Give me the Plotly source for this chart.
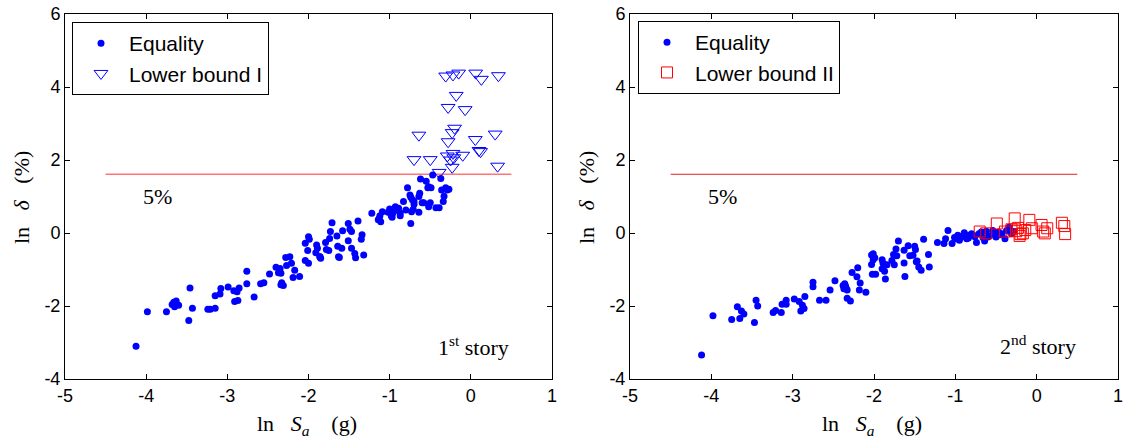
import numpy as np
import plotly.graph_objects as go

# ---------------- data ----------------
# 1st story: equality solutions (ln Sa, ln drift)
eq1_x = [-4.125, -3.985, -3.75, -3.68, -3.66, -3.63, -3.60, -3.65, -3.46, -3.475,
         -3.43, -3.24, -3.21, -3.15, -3.15, -3.09, -3.08, -2.99, -2.92, -2.88,
         -2.855, -2.91, -2.87, -2.76, -2.76, -2.67, -2.59, -2.55, -2.48, -2.40,
         -2.35, -2.37, -2.34, -2.33, -2.31, -2.34, -2.27, -2.28, -2.23, -2.21,
         -2.17, -2.19, -2.11, -2.04, -2.00, -1.99, -2.04, -2.01, -2.00, -1.90,
         -1.89, -1.91, -1.86, -1.85, -1.79, -1.74, -1.73, -1.78, -1.75, -1.71,
         -1.65, -1.64, -1.63, -1.59, -1.58, -1.49, -1.47, -1.51, -1.51, -1.47,
         -1.43, -1.42, -1.39, -1.34, -1.35, -1.32, -1.22, -1.12, -1.11, -1.13,
         -1.09, -1.02, -0.97, -0.96, -0.93, -0.91, -0.98, -0.87, -0.89, -0.83,
         -0.87, -0.78, -0.74, -0.72, -0.70, -0.75, -0.70, -0.73, -0.71, -0.64,
         -0.74, -0.63, -0.64, -0.62, -0.60, -0.58, -0.55, -0.53, -0.49, -0.52,
         -0.52, -0.50, -0.47, -0.43, -0.39, -0.37, -0.36, -0.34, -0.33, -0.31,
         -0.29, -0.27, -1.14, -1.00, -0.95, -0.80, -1.62, -1.86]
eq1_y = [-3.10, -2.16, -2.16, -1.96, -1.90, -1.86, -1.98, -2.02, -1.51, -2.40,
         -2.06, -2.09, -2.09, -2.06, -1.72, -1.67, -1.52, -1.48, -1.58, -1.61,
         -1.51, -1.88, -1.85, -1.39, -1.05, -1.75, -1.39, -1.36, -1.12, -0.94,
         -0.97, -1.09, -1.10, -1.36, -1.44, -1.42, -0.89, -0.67, -0.65, -0.83,
         -1.02, -1.22, -1.19, -0.75, -0.10, -0.17, -0.28, -0.48, -0.83, -0.33,
         -0.42, -0.54, -0.65, -0.69, -0.26, -0.15, 0.04, -0.45, -0.48, 0.28,
         -0.08, -0.36, -0.65, -0.42, 0.06, 0.10, 0.04, 0.26, -0.21, -0.42,
         -0.56, -0.68, 0.33, -0.05, -0.17, -0.60, 0.54, 0.47, 0.31, 0.40,
         0.58, 0.57, 0.43, 0.55, 0.72, 0.63, 0.47, 0.55, 0.68, 0.86,
         0.47, 1.24, 0.98, 0.91, 0.86, 1.04, 0.79, 0.58, 0.65, 0.57,
         0.26, 1.09, 1.00, 1.48, 0.83, 0.83, 1.42, 1.24, 1.24, 1.27,
         0.72, 0.83, 1.59, 0.69, 0.69, 1.49, 1.18, 0.86, 1.01, 1.24,
         1.18, 1.20, 0.36, 0.66, 0.60, 0.63, -0.67, -0.65]

# 1st story: lower bound I
lb1_x = [-0.31, -0.22, -0.15, 0.06, 0.13, 0.34, -0.18, -0.28, -0.07, -0.64,
         -0.20, -0.23, -0.28, 0.055, 0.30, -0.70, -0.50, -0.29, -0.22, -0.21,
         -0.10, 0.10, 0.12, -0.23, 0.33, -0.39, -0.25]
lb1_y = [4.30, 4.33, 4.38, 4.38, 4.21, 4.31, 3.77, 3.44, 3.38, 2.68,
         2.87, 2.75, 2.50, 2.56, 2.71, 2.01, 2.01, 2.11, 2.18, 2.06,
         2.13, 2.26, 2.23, 1.80, 1.83, 1.66, 2.00]

# 2nd story: equality solutions
eq2_x = [-4.12, -3.98, -3.75, -3.68, -3.63, -3.60, -3.65, -3.47, -3.45, -3.43,
         -3.24, -3.21, -3.14, -3.13, -3.08, -3.08, -2.98, -2.92, -2.90, -2.88,
         -2.86, -2.85, -2.75, -2.75, -2.67, -2.59, -2.54, -2.48, -2.38, -2.36,
         -2.35, -2.34, -2.33, -2.37, -2.33, -2.29, -2.27, -2.21, -2.20, -2.18,
         -2.17, -2.10, -2.03, -2.01, -1.99, -2.01, -2.03, -2.02, -1.98, -1.90,
         -1.89, -1.90, -1.87, -1.86, -1.84, -1.78, -1.76, -1.75, -1.73, -1.72,
         -1.70, -1.63, -1.63, -1.62, -1.58, -1.56, -1.52, -1.50, -1.49, -1.47,
         -1.48, -1.45, -1.42, -1.39, -1.33, -1.32, -1.22, -1.14, -1.12, -1.09,
         -1.04, -0.99, -0.97, -0.95, -0.93, -0.89, -0.86, -0.83, -0.80, -0.78,
         -0.74, -0.71, -0.68, -0.64, -0.62, -0.60, -0.54, -0.52, -0.50, -0.47,
         -0.43, -0.39, -0.37, -0.34, -0.31, -0.58, -0.66, -0.76, -0.84, -0.91,
         -1.01, -0.45, -0.28]
eq2_y = [-3.34, -2.27, -2.37, -2.02, -2.14, -2.22, -2.34, -2.45, -1.84, -2.00,
         -2.18, -2.12, -2.18, -1.95, -1.84, -1.95, -1.81, -1.88, -2.14, -1.98,
         -2.07, -1.74, -1.35, -1.47, -1.84, -1.84, -1.56, -1.31, -1.44, -1.39,
         -1.45, -1.52, -1.56, -1.53, -1.79, -1.86, -1.08, -1.20, -0.95, -1.56,
         -1.37, -1.62, -0.60, -0.57, -0.68, -0.73, -0.86, -1.13, -1.13, -0.73,
         -0.82, -0.98, -1.05, -1.26, -0.87, -0.75, -0.59, -0.87, -0.44, -0.62,
         -0.22, -0.47, -0.82, -1.19, -0.35, -0.62, -0.61, -0.36, -0.45, -0.77,
         -0.79, -0.93, -1.02, -0.17, -0.59, -0.93, -0.26, -0.29, -0.16, 0.07,
         -0.29, -0.16, -0.06, -0.20, -0.11, 0.01, -0.16, -0.06, -0.02, -0.06,
         -0.26, -0.02, 0.03, -0.22, 0.05, -0.11, 0.07, -0.02, -0.11, 0.03,
         -0.02, -0.16, 0.07, 0.16, -0.02, -0.08, -0.12, -0.10, -0.14, -0.08,
         -0.12, -0.05, 0.04]

# 2nd story: lower bound II
lb2_x = [-0.70, -0.62, -0.49, -0.39, -0.31, -0.27, -0.23, -0.20, -0.21, -0.17,
         -0.09, -0.06, 0.06, 0.08, 0.10, 0.13, 0.31, 0.34, 0.35, -0.25, -0.14]
lb2_y = [0.04, -0.01, 0.26, 0.04, 0.10, 0.40, 0.14, -0.03, -0.08, -0.01,
         0.36, 0.13, 0.22, 0.04, -0.01, 0.13, 0.28, 0.19, -0.03, 0.05, 0.08]

# 5 % drift limit, drawn over this ln Sa span
limit_pct = 5
limit_span = [-4.5, 0.5]

x_ticks = [-5, -4, -3, -2, -1, 0, 1]
y_ticks = [-4, -2, 0, 2, 4, 6]
x_ticktext = ["-5", "-4", "-3", "-2", "-1", "0", "1"]
y_ticktext = ["-4", "-2", "0", "2", "4", "6"]

# ---------------- figure ----------------
W, H = 1125, 447
BLUE = "#0000ff"
SANS = "Liberation Sans, Arial, sans-serif"
SERIF = "Liberation Serif, Times New Roman, serif"

fig = go.Figure()
limit_y = [np.log(limit_pct)] * 2

# left panel
fig.add_trace(go.Scatter(x=limit_span, y=limit_y, mode="lines", xaxis="x", yaxis="y",
                         line=dict(color="rgba(255,70,70,0.75)", width=1.6),
                         showlegend=False, hoverinfo="skip"))
fig.add_trace(go.Scatter(x=eq1_x, y=eq1_y, mode="markers", name="Equality",
                         xaxis="x", yaxis="y", legend="legend",
                         marker=dict(symbol="circle", size=7, color=BLUE)))
fig.add_trace(go.Scatter(x=lb1_x, y=lb1_y, mode="markers", name="Lower bound I",
                         xaxis="x", yaxis="y", legend="legend",
                         marker=dict(symbol="triangle-down-open", size=12,
                                     color=BLUE, line=dict(width=1, color=BLUE))))

# right panel
fig.add_trace(go.Scatter(x=limit_span, y=limit_y, mode="lines", xaxis="x2", yaxis="y2",
                         line=dict(color="#e02020", width=1),
                         showlegend=False, hoverinfo="skip"))
fig.add_trace(go.Scatter(x=eq2_x, y=eq2_y, mode="markers", name="Equality",
                         xaxis="x2", yaxis="y2", legend="legend2",
                         marker=dict(symbol="circle", size=7, color=BLUE)))
fig.add_trace(go.Scatter(x=lb2_x, y=lb2_y, mode="markers", name="Lower bound II",
                         xaxis="x2", yaxis="y2", legend="legend2",
                         marker=dict(symbol="square-open", size=11,
                                     color="#ff0000", line=dict(width=1, color="#ff0000"))))

# plot-area placement in pixels
left_px = (65, 552)
right_px = (630, 1118)
top_px, bottom_px = 14, 379
ydom = [1 - bottom_px / H, 1 - top_px / H]

axis_common = dict(showline=True, linecolor="black", linewidth=1, mirror="ticks",
                   ticks="inside", ticklen=5, tickcolor="black", showgrid=False,
                   zeroline=False, automargin=False,
                   tickfont=dict(family=SANS, size=18, color="black"))

legend_common = dict(xanchor="left", yanchor="top",
                     bgcolor="white", bordercolor="black", borderwidth=1,
                     font=dict(family=SANS, size=21, color="black"),
                     itemwidth=46, tracegroupgap=0)

fig.update_layout(
    template="none",
    width=W, height=H,
    margin=dict(l=0, r=0, t=0, b=0, pad=0, autoexpand=False),
    paper_bgcolor="white", plot_bgcolor="white",
    xaxis=dict(domain=[left_px[0] / W, left_px[1] / W], range=[-5, 1],
               tickvals=x_ticks, ticktext=x_ticktext, anchor="y", **axis_common),
    yaxis=dict(domain=ydom, range=[-4, 6], tickvals=y_ticks, ticktext=y_ticktext,
               anchor="x", **axis_common),
    xaxis2=dict(domain=[right_px[0] / W, right_px[1] / W], range=[-5, 1],
                tickvals=x_ticks, ticktext=x_ticktext, anchor="y2", **axis_common),
    yaxis2=dict(domain=ydom, range=[-4, 6], tickvals=y_ticks, ticktext=y_ticktext,
                anchor="x2", **axis_common),
    legend=dict(x=72 / W, y=1 - 22 / H, **legend_common),
    legend2=dict(x=638 / W, y=1 - 21 / H, **legend_common),
    showlegend=True,
)

NB = "\u00a0"
ann_font = dict(family=SERIF, size=22, color="black")
annotations = [
    # limit labels
    dict(x=-3.86, y=1.0, xref="x", yref="y", text="5%", showarrow=False, font=ann_font),
    dict(x=-3.86, y=1.0, xref="x2", yref="y2", text="5%", showarrow=False, font=ann_font),
    # story labels
    dict(x=0.03, y=-3.1, xref="x", yref="y", text="1<sup>st</sup> story",
         showarrow=False, font=ann_font),
    dict(x=0.02, y=-3.07, xref="x2", yref="y2", text="2<sup>nd</sup> story",
         showarrow=False, font=ann_font),
]
xtitle = f"ln{NB}{NB}{NB}<i>S</i><sub><i>a</i></sub>{NB}{NB}{NB}{NB}(g)"
ytitle = f"ln{NB}{NB}{NB}<i>\u03b4</i>{NB}{NB}{NB}(%)"
for cx in (307, 872):
    annotations.append(dict(x=cx / W, y=1 - 425 / H, xref="paper", yref="paper",
                            text=xtitle, showarrow=False, font=ann_font,
                            xanchor="center", yanchor="middle"))
for cx in (21, 586):
    annotations.append(dict(x=cx / W, y=1 - 198 / H, xref="paper", yref="paper",
                            text=ytitle, showarrow=False, font=ann_font, textangle=-90,
                            xanchor="center", yanchor="middle"))
fig.update_layout(annotations=annotations)

fig.write_html("out.html")
